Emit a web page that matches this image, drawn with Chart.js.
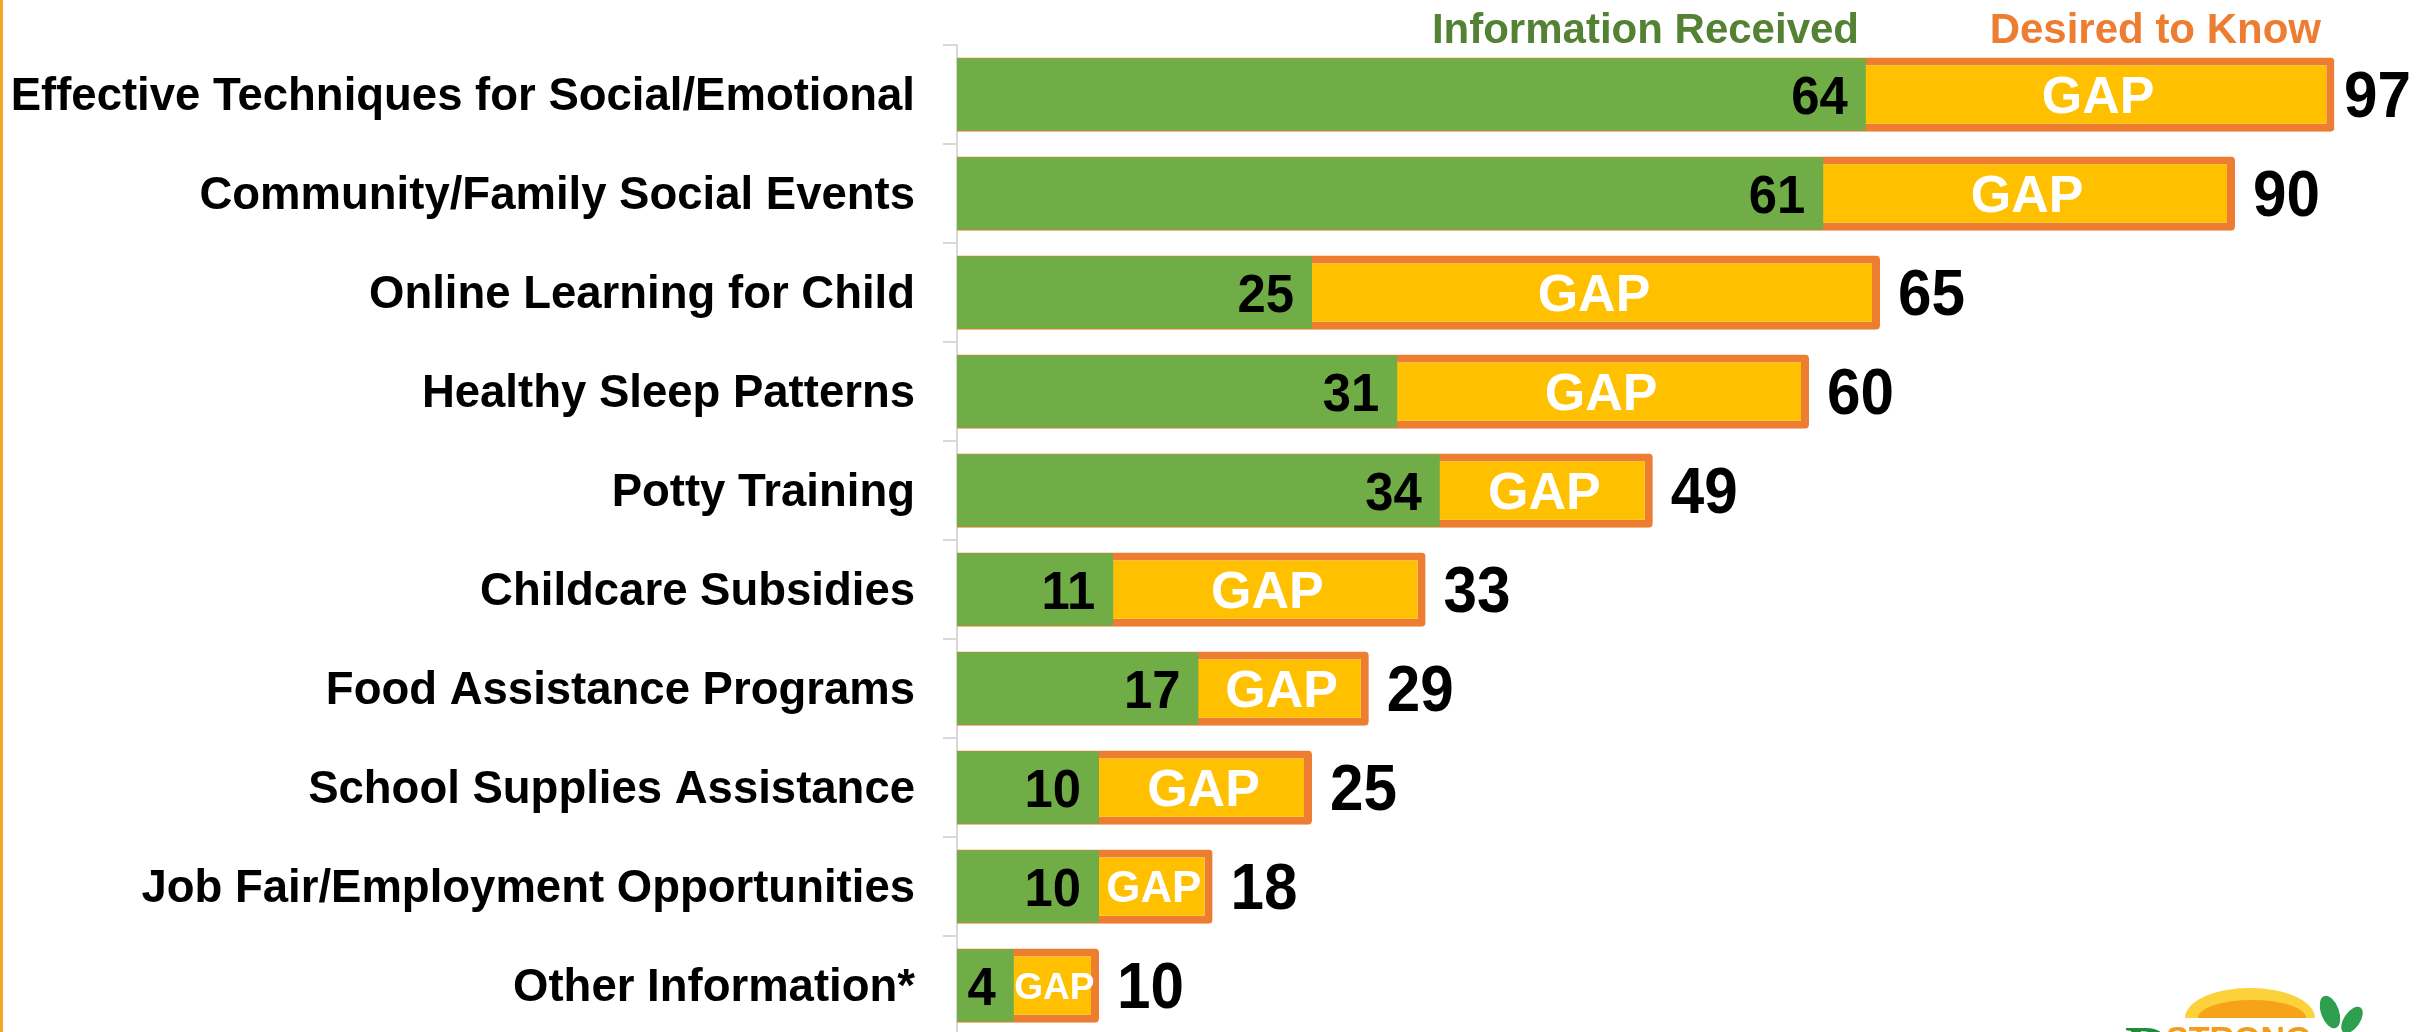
<!DOCTYPE html>
<html>
<head>
<meta charset="utf-8">
<title>Information Received vs Desired to Know</title>
<script src="https://cdn.jsdelivr.net/npm/chart.js@4.4.1/dist/chart.umd.min.js"></script>
<style>
  html, body { margin: 0; padding: 0; background: #fff; overflow: hidden; }
  #wrap { position: relative; width: 2420px; height: 1040px; }
  #edge { position: absolute; left: 0; top: 0; width: 3px; height: 1040px; background: #F5A623; }
</style>
</head>
<body>
<div id="wrap">
  <canvas id="gapChart" width="2420" height="1040"></canvas>
  <div id="edge"></div>
</div>
<script>
// data
const categories = [
  'Effective Techniques for Social/Emotional',
  'Community/Family Social Events',
  'Online Learning for Child',
  'Healthy Sleep Patterns',
  'Potty Training',
  'Childcare Subsidies',
  'Food Assistance Programs',
  'School Supplies Assistance',
  'Job Fair/Employment Opportunities',
  'Other Information*'
];
const received = [64, 61, 25, 31, 34, 11, 17, 10, 10, 4];
const desired  = [97, 90, 65, 60, 49, 33, 29, 25, 18, 10];
const seriesNames = ['Information Received', 'Desired to Know'];
const gapText = 'GAP';

const FONT = '"Liberation Sans", Arial, sans-serif';
const GREEN = '#70AD47';
const YELLOW = '#FFC000';
const ORANGE = '#ED7D31';
const BORDER_W = 8;
const NUM_SQUEEZE = 0.94;

// numbers in the picture are a touch narrower than plain bold Arial
function drawNumber(ctx, text, x, y, size, align) {
  ctx.save();
  ctx.translate(x, y);
  ctx.scale(NUM_SQUEEZE, 1);
  ctx.font = 'bold ' + size + 'px ' + FONT;
  ctx.textAlign = align;
  ctx.fillText(text, 0, 0.358 * size);
  ctx.restore();
}

// value labels, GAP text and the text legend on top
const labelPlugin = {
  id: 'gapLabels',
  afterDatasetsDraw(chart) {
    const ctx = chart.ctx;
    const xs = chart.scales.x;
    const bars = chart.getDatasetMeta(0).data;
    ctx.save();
    bars.forEach((bar, i) => {
      const y = bar.y;
      const xr = xs.getPixelForValue(received[i]);
      const xd = xs.getPixelForValue(desired[i]);

      ctx.fillStyle = '#000';
      drawNumber(ctx, String(received[i]), xr - 18, y, 54, 'right');

      // GAP shrinks when the yellow part gets short
      const gapPx = xd - xr;
      const fs = Math.min(52, 16.5 + 0.241 * gapPx);
      ctx.fillStyle = '#fff';
      ctx.textAlign = 'center';
      ctx.font = 'bold ' + fs.toFixed(1) + 'px ' + FONT;
      ctx.fillText(gapText, (xr + xd - BORDER_W / 2) / 2, y + 0.358 * fs);

      // desired total, kept inside the page
      ctx.fillStyle = '#000';
      ctx.font = 'bold 64px ' + FONT;
      const w = ctx.measureText(String(desired[i])).width * NUM_SQUEEZE;
      const x = Math.min(xd + 18, chart.width - w - 9);
      drawNumber(ctx, String(desired[i]), x, y, 64, 'left');
    });

    // legend as coloured words
    const right = chart.chartArea.right;
    ctx.font = 'bold 42px ' + FONT;
    ctx.textAlign = 'right';
    ctx.fillStyle = '#548235';
    ctx.fillText(seriesNames[0], right - 518, 43);
    ctx.fillStyle = ORANGE;
    ctx.fillText(seriesNames[1], right - 56, 43);
    ctx.restore();
  },
  afterDraw(chart) {
    // little sun logo in the bottom-right corner (cut off by the page)
    const ctx = chart.ctx;
    ctx.save();
    ctx.fillStyle = '#FDD13A';
    ctx.beginPath();
    ctx.ellipse(2250, 1018, 65, 30, 0, Math.PI, 2 * Math.PI);
    ctx.fill();
    ctx.fillStyle = '#F7A21B';
    ctx.beginPath();
    ctx.ellipse(2252, 1018, 54, 18, 0, Math.PI, 2 * Math.PI);
    ctx.fill();
    ctx.fillStyle = '#fff';
    ctx.fillRect(2170, 1018, 160, 30);
    ctx.fillStyle = '#1E8C3A';
    ctx.font = 'bold 62px "Liberation Serif", serif';
    ctx.textAlign = 'left';
    ctx.fillText('D', 2125, 1068);
    ctx.fillStyle = '#F39C1E';
    ctx.font = 'bold 34px ' + FONT;
    ctx.fillText('STRONG', 2166, 1050);
    ctx.fillStyle = '#2E9E4F';
    ctx.beginPath();
    ctx.ellipse(2330, 1012, 9, 17, -0.35, 0, 2 * Math.PI);
    ctx.fill();
    ctx.beginPath();
    ctx.ellipse(2352, 1020, 8, 15, 0.6, 0, 2 * Math.PI);
    ctx.fill();
    ctx.restore();
  }
};

const ctx = document.getElementById('gapChart').getContext('2d');
new Chart(ctx, {
  type: 'bar',
  data: {
    labels: categories,
    datasets: [
      {
        label: seriesNames[0],
        data: received,
        backgroundColor: GREEN,
        borderWidth: 0,
        barPercentage: 0.73,
        categoryPercentage: 1,
        grouped: false,
        order: 0
      },
      {
        label: seriesNames[1],
        data: desired,
        backgroundColor: YELLOW,
        borderColor: ORANGE,
        borderWidth: BORDER_W,
        borderRadius: { topRight: 4, bottomRight: 4 },
        barPercentage: 0.75,
        categoryPercentage: 1,
        grouped: false,
        order: 1
      }
    ]
  },
  options: {
    indexAxis: 'y',
    responsive: false,
    animation: false,
    devicePixelRatio: 1,
    layout: { padding: { top: 45, bottom: 5, left: 0, right: 43 } },
    scales: {
      x: { min: 0, max: 100, display: false },
      y: {
        grid: {
          drawOnChartArea: false,
          drawTicks: true,
          tickLength: 14,
          color: '#D9D9D9',
          lineWidth: 2
        },
        border: { display: true, color: '#D9D9D9', width: 2 },
        ticks: {
          color: '#000',
          padding: 28,
          labelOffset: 3,
          font: { family: FONT, size: 45.5, weight: 'bold' }
        },
        afterFit(scale) {
          // fixed axis width, and no extra room above/below the bands
          scale.width = 957;
          scale.paddingTop = 0;
          scale.paddingBottom = 0;
        }
      }
    },
    plugins: {
      legend: { display: false },
      tooltip: { enabled: false }
    }
  },
  plugins: [labelPlugin]
});
</script>
</body>
</html>
